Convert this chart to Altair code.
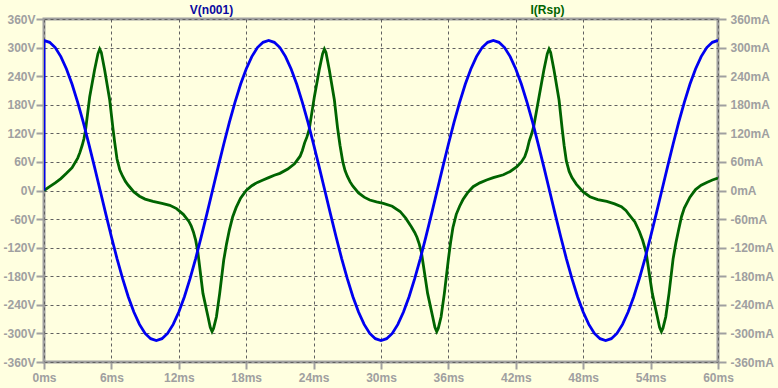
import altair as alt
import pandas as pd

# ---- data ----
# V(n001): sampled every 0.5 ms from 0 to 60 ms, preceded by the step at t=0 from 0 V
v_t = [0.0] + [i * 0.5 for i in range(121)]
v_val = [0,
    315, 311, 300, 281, 255, 223, 185, 143, 97, 49,
    0, -49, -97, -143, -185, -223, -255, -281, -300, -311,
    -315, -311, -300, -281, -255, -223, -185, -143, -97, -49,
    0, 49, 97, 143, 185, 223, 255, 281, 300, 311,
    315, 311, 300, 281, 255, 223, 185, 143, 97, 49,
    0, -49, -97, -143, -185, -223, -255, -281, -300, -311,
    -315, -311, -300, -281, -255, -223, -185, -143, -97, -49,
    0, 49, 97, 143, 185, 223, 255, 281, 300, 311,
    315, 311, 300, 281, 255, 223, 185, 143, 97, 49,
    0, -49, -97, -143, -185, -223, -255, -281, -300, -311,
    -315, -311, -300, -281, -255, -223, -185, -143, -97, -49,
    0, 49, 97, 143, 185, 223, 255, 281, 300, 311,
    315]

# I(Rsp) in mA, read period by period
i_t1 = [0.0, 0.5, 1.0, 1.5, 2.0, 2.5, 3.0, 3.2, 3.4, 3.55, 3.7, 4.07, 4.5, 4.8, 4.96, 5.1, 5.4,
        5.85, 6.14, 6.3, 6.5, 6.75, 7.0, 7.25, 7.5, 8.0, 8.5, 9.0, 9.7, 10.5, 11.2, 11.8, 12.4,
        12.9, 13.1, 13.3, 13.5, 13.7, 14.15, 14.6, 14.8, 14.96, 15.1, 15.35, 15.64, 16.0, 16.25,
        16.5, 16.8, 17.1, 17.5, 18.0, 18.5, 19.0, 19.5]
i_v1 = [0, 8, 16, 25, 36, 48, 68, 80, 95, 108, 127, 197, 253, 287, 297, 290, 253,
        190, 130, 100, 66, 43, 30, 19, 11, -3, -12, -18, -23, -27, -31, -38, -50,
        -65, -74, -87, -104, -130, -216, -265, -287, -296, -289, -265, -216, -146, -112,
        -83, -55, -36, -16, 0, 10, 17, 22]
i_t2 = [20.0, 20.5, 21.0, 21.7, 22.3, 22.8, 23.0, 23.2, 23.4, 23.6, 24.07, 24.5, 24.8, 24.96,
        25.1, 25.4, 25.85, 26.14, 26.35, 26.6, 26.8, 27.0, 27.25, 27.5, 28.0, 28.5, 29.0, 29.6,
        30.2, 31.0, 31.7, 32.2, 32.7, 33.0, 33.2, 33.4, 33.6, 34.15, 34.6, 34.8, 34.96, 35.1,
        35.35, 35.64, 36.0, 36.2, 36.4, 36.7, 37.0, 37.3, 37.7, 38.2, 38.8, 39.4]
i_v2 = [27, 32, 36, 45, 56, 72, 84, 100, 112, 127, 197, 253, 287, 297,
        290, 253, 190, 130, 95, 60, 42, 30, 18, 9, -5, -14, -20, -24,
        -27, -33, -44, -58, -76, -88, -98, -112, -130, -216, -265, -287, -296, -289,
        -265, -216, -144, -108, -78, -50, -33, -19, -5, 8, 16, 22]
i_t3 = [40.0, 40.9, 41.5, 42.1, 42.5, 42.8, 43.0, 43.2, 43.4, 43.6, 44.07, 44.5, 44.8, 44.96,
        45.1, 45.4, 45.85, 46.14, 46.3, 46.5, 46.75, 47.0, 47.4, 48.0, 48.6, 49.3, 50.1, 50.8,
        51.4, 51.8, 52.1, 52.6, 53.0, 53.3, 53.6, 54.15, 54.6, 54.8, 54.96, 55.1, 55.35, 55.64,
        56.0, 56.25, 56.5, 56.75, 57.0, 57.5, 58.0, 58.5, 59.0, 59.5, 60.0]
i_v3 = [27, 33, 40, 50, 60, 71, 85, 104, 118, 135, 197, 253, 287, 297,
        290, 253, 190, 127, 95, 62, 40, 27, 13, -3, -13, -19, -23, -28,
        -34, -42, -51, -66, -86, -105, -130, -216, -265, -287, -296, -289, -265, -216,
        -144, -110, -82, -55, -37, -14, 2, 11, 17, 22, 26]

x_ticks = list(range(0, 61, 6))
y_ticks = list(range(-360, 361, 60))

i_t = i_t1 + i_t2 + i_t3
i_val = i_v1 + i_v2 + i_v3

v_df = pd.DataFrame({"t": v_t, "v": v_val, "k": list(range(len(v_t)))})
i_df = pd.DataFrame({"t": i_t, "i": i_val, "k": list(range(len(i_t)))})

GRAY = "#A0A0A0"
GRID = "#606060"
FONT = "Liberation Sans"
BG = "#FFFFE0"

common_axis = dict(
    grid=True, gridColor=GRID, gridDash=[3, 3], gridWidth=1,
    domain=False, tickColor=GRAY, tickWidth=2,
    labelColor=GRAY, labelFont=FONT, labelFontWeight="bold", labelFontSize=12,
    labelFlush=False, labelOverlap=False,
)

x_enc = alt.X(
    "t:Q",
    scale=alt.Scale(domain=[0, 60], nice=False, zero=False),
    axis=alt.Axis(values=x_ticks, labelExpr="datum.value + 'ms'", title=None,
                  tickSize=7, labelPadding=3, **common_axis),
)

blue = alt.Chart(v_df).mark_line(color="#0000F0", strokeWidth=2.8, clip=True).encode(
    x=x_enc,
    y=alt.Y("v:Q", scale=alt.Scale(domain=[-360, 360], nice=False),
            axis=alt.Axis(values=y_ticks, labelExpr="datum.value + 'V'", orient="left",
                          tickSize=8, labelPadding=1,
                          title="V(n001)", titleAngle=0, titleX=167, titleY=-10,
                          titleAlign="center", titleBaseline="middle",
                          titleColor="#0A0AA0", titleFont=FONT, titleFontSize=12,
                          titleFontWeight="bold", **common_axis)),
    order=alt.Order("k:Q"),
)

green = alt.Chart(i_df).mark_line(color="#006400", strokeWidth=2.8, clip=True).encode(
    x=x_enc,
    y=alt.Y("i:Q", scale=alt.Scale(domain=[-360, 360], nice=False),
            axis=alt.Axis(values=y_ticks, labelExpr="datum.value + 'mA'", orient="right",
                          tickSize=8, labelPadding=4,
                          title="I(Rsp)", titleAngle=0, titleX=-171, titleY=-10,
                          titleAlign="center", titleBaseline="middle",
                          titleColor="#006400", titleFont=FONT, titleFontSize=12,
                          titleFontWeight="bold", **{**common_axis, "grid": False})),
    order=alt.Order("k:Q"),
)

chart = alt.layer(green, blue).resolve_scale(y="independent").properties(
    width=674, height=343,
    background=BG,
    padding={"left": 44, "top": 19, "right": 60, "bottom": 26},
    autosize=alt.AutoSizeParams(type="none"),
).configure_view(
    fill=BG, stroke=GRAY, strokeWidth=3,
)

chart.save("out.html", embed_options={"renderer": "svg", "actions": False})
